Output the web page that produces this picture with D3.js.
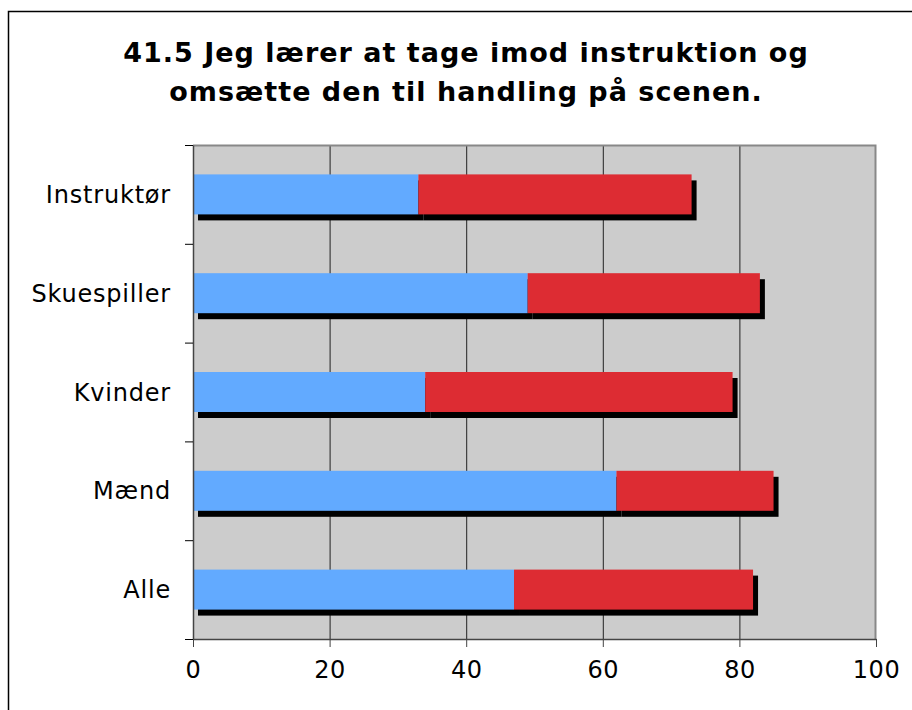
<!DOCTYPE html>
<html>
<head>
<meta charset="utf-8">
<script src="https://cdn.jsdelivr.net/npm/d3@7"></script>
<style>
  body { margin: 0; background: #fff; }
  text { font-family: "DejaVu Sans", Verdana, sans-serif; fill: #000; }
</style>
</head>
<body>
<div id="chart"></div>
<script>
// Stacked horizontal bars with drop shadow (Excel style)

var categories = ["Instruktør", "Skuespiller", "Kvinder", "Mænd", "Alle"];
var blueValues = [33, 49, 34, 62, 47];
var redValues  = [40, 34, 45, 23, 35];
var xTicks = [0, 20, 40, 60, 80, 100];
var titleLines = ["41.5 Jeg lærer at tage imod instruktion og", "omsætte den til handling på scenen."];

var W = 912, H = 710;
var margin = {left: 193, right: 36, top: 145, bottom: 71};
var width = W - margin.left - margin.right,
    height = H - margin.top - margin.bottom;

var svg = d3.select("#chart")
            .append("svg")
            .attr("width", W)
            .attr("height", H);

// outer frame (runs off the right and bottom of the picture)
svg.append("path")
   .attr("d", "M8.5," + (H + 5) + "V11.5H" + (W + 5))
   .attr("fill", "none")
   .attr("stroke", "#000")
   .attr("stroke-width", 1.5);

// title
svg.append("g")
   .selectAll("text")
   .data(titleLines)
   .enter()
   .append("text")
   .attr("x", 466)
   .attr("y", function(d, i) { return 62 + i * 39; })
   .attr("text-anchor", "middle")
   .style("font-size", "27px")
   .style("font-weight", "bold")
   .style("letter-spacing", "1px")
   .text(function(d) { return d; });

var g = svg.append("g")
           .attr("transform", "translate(" + margin.left + "," + margin.top + ")");

var x = d3.scaleLinear().domain([0, 100]).range([0, width]);
var y = d3.scaleBand().domain(categories).range([0, height]);
var barH = 40;

// plot background
g.append("rect")
 .attr("width", width)
 .attr("height", height)
 .attr("fill", "#cccccc");

// gridlines
g.append("g")
 .selectAll("line")
 .data(xTicks.slice(1, -1))
 .enter()
 .append("line")
 .attr("x1", function(d) { return x(d) + 0.5; })
 .attr("x2", function(d) { return x(d) + 0.5; })
 .attr("y1", 0)
 .attr("y2", height)
 .attr("stroke", "#222")
 .attr("stroke-width", 1);

// top and right plot border
g.append("path")
 .attr("d", "M0,0.5H" + (width - 0.5) + "V" + height)
 .attr("fill", "none")
 .attr("stroke", "#888")
 .attr("stroke-width", 2);

// stacked segments
var segments = [];
categories.forEach(function(c, i) {
    segments.push({cat: c, x0: 0, x1: blueValues[i], color: "#62aaff"});
    segments.push({cat: c, x0: blueValues[i], x1: blueValues[i] + redValues[i], color: "#dd2c33"});
});

function barY(d) { return y(d.cat) + (y.bandwidth() - barH) / 2; }

// shadows first
g.append("g")
 .attr("class", "shadows")
 .selectAll("rect")
 .data(segments)
 .enter()
 .append("rect")
 .attr("x", function(d) { return x(d.x0) + 5; })
 .attr("y", function(d) { return barY(d) + 6; })
 .attr("width", function(d) { return x(d.x1) - x(d.x0); })
 .attr("height", barH)
 .attr("fill", "#000");

g.append("g")
 .attr("class", "bars")
 .selectAll("rect")
 .data(segments)
 .enter()
 .append("rect")
 .attr("x", function(d) { return x(d.x0); })
 .attr("y", barY)
 .attr("width", function(d) { return x(d.x1) - x(d.x0); })
 .attr("height", barH)
 .attr("fill", function(d) { return d.color; });

// axes
var xAxis = g.append("g")
             .attr("transform", "translate(0," + height + ")")
             .call(d3.axisBottom(x).tickValues(xTicks).tickSizeInner(8).tickSizeOuter(0).tickPadding(14));

var yAxis = g.append("g")
             .call(d3.axisLeft(y).tickSize(0).tickPadding(22));

// category boundary ticks on the y axis
g.append("g")
 .selectAll("line")
 .data(d3.range(categories.length + 1))
 .enter()
 .append("line")
 .attr("x1", -8)
 .attr("x2", 0)
 .attr("y1", function(i) { return i * y.step() + 0.5; })
 .attr("y2", function(i) { return i * y.step() + 0.5; })
 .attr("stroke", "#000");

[xAxis, yAxis].forEach(function(a) {
    a.select(".domain").attr("stroke", "#444").attr("stroke-width", 1.5);
    a.selectAll(".tick line").attr("stroke", "#444");
    a.selectAll("text").style("font-size", "24px").style("font-family", "DejaVu Sans, Verdana, sans-serif");
});
yAxis.selectAll("text").attr("dy", "0.36em").style("letter-spacing", "0.8px");
xAxis.selectAll("text").style("letter-spacing", "0.5px");
</script>
</body>
</html>
